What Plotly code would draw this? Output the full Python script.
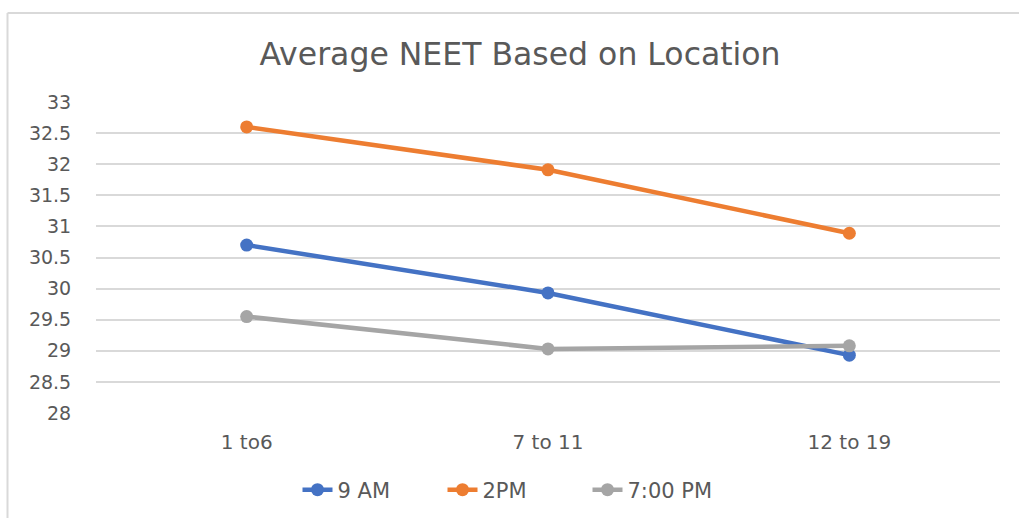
import plotly.graph_objects as go

# Age groups on the category axis
locations = ["1 to6", "7 to 11", "12 to 19"]

# Average NEET per time slot
neet_9am = [30.70, 29.93, 28.93]
neet_2pm = [32.60, 31.91, 30.89]
neet_7pm = [29.55, 29.03, 29.08]

series = [
    ("9 AM", neet_9am, "#4472C4"),
    ("2PM", neet_2pm, "#ED7D31"),
    ("7:00 PM", neet_7pm, "#A5A5A5"),
]

fig = go.Figure()
for name, values, color in series:
    fig.add_trace(go.Scatter(
        x=locations, y=values, name=name, mode="lines+markers",
        line=dict(color=color, width=4.5),
        marker=dict(color=color, size=13),
    ))

font_family = "DejaVu Sans, sans-serif"
grid = "#D9D9D9"
text_color = "#595959"

# plot area in pixels: x 96..1000, y 102..413
PW, PH = 904, 311

fig.update_layout(
    width=1019, height=518,
    margin=dict(l=96, r=19, t=102, b=105, autoexpand=False),
    paper_bgcolor="white", plot_bgcolor="white",
    font=dict(family=font_family, color=text_color, size=19),
    title=dict(
        text="Average NEET Based on Location",
        x=(520 - 96) / PW, xanchor="center", xref="paper",
        y=1 - 54 / 518, yref="container", yanchor="middle",
        font=dict(family=font_family, size=31.5, color=text_color),
    ),
    showlegend=True,
    legend=dict(
        orientation="h", x=(515 - 96) / PW, xanchor="center",
        y=(413 - 490) / PH, yanchor="middle",
        font=dict(size=21, color=text_color),
        entrywidth=100, entrywidthmode="pixels",
    ),
    xaxis=dict(
        type="category", range=[-0.5, 2.5], automargin=False,
        showgrid=False, zeroline=False, showline=False,
        ticks="outside", ticklen=11, tickcolor="rgba(0,0,0,0)",
        tickfont=dict(size=20),
    ),
    yaxis=dict(
        range=[28, 33], dtick=0.5, tick0=28, automargin=False,
        showgrid=True, gridcolor=grid, gridwidth=1.5,
        zeroline=False, showline=False,
        ticks="outside", ticklen=20, tickcolor="rgba(0,0,0,0)",
        tickfont=dict(size=19),
    ),
    shapes=[
        # chart-area frame: top and left edges
        dict(type="line", xref="paper", yref="paper",
             x0=(7.5 - 96) / PW, x1=(1019 - 96) / PW,
             y0=(413 - 13) / PH, y1=(413 - 13) / PH,
             line=dict(color=grid, width=2)),
        dict(type="line", xref="paper", yref="paper",
             x0=(7.5 - 96) / PW, x1=(7.5 - 96) / PW,
             y0=(413 - 13) / PH, y1=(413 - 520) / PH,
             line=dict(color=grid, width=2)),
    ],
)

fig.write_html("out.html")
